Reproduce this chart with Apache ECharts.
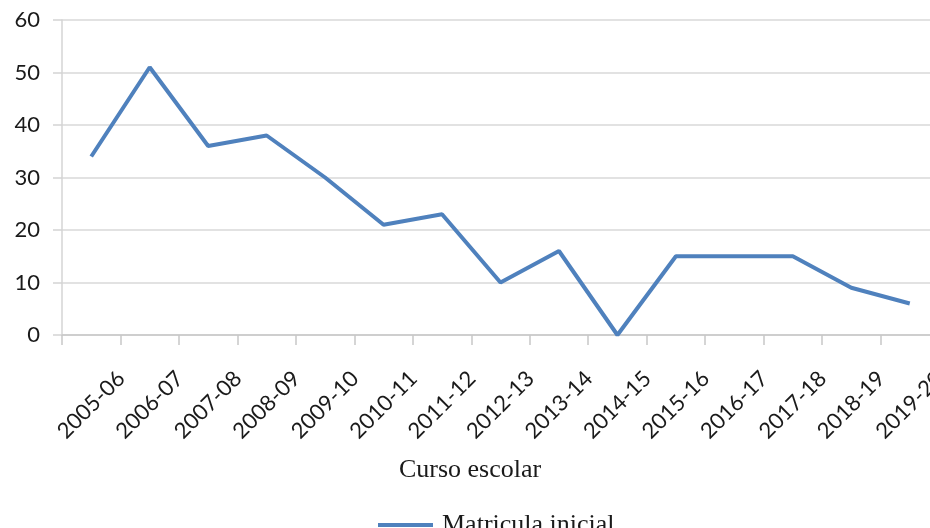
<!DOCTYPE html>
<html>
<head>
<meta charset="utf-8">
<script src="https://cdn.jsdelivr.net/npm/echarts@6/dist/echarts.min.js"></script>
<style>
html,body{margin:0;padding:0;background:#fff;overflow:hidden;}
#chart{width:930px;height:528px;}
</style>
</head>
<body>
<div id="chart"></div>
<script>
var categories = ["2005-06","2006-07","2007-08","2008-09","2009-10","2010-11","2011-12","2012-13","2013-14","2014-15","2015-16","2016-17","2017-18","2018-19","2019-20"];
var matricula = [34, 51, 36, 38, 30, 21, 23, 10, 16, 0, 15, 15, 15, 9, 6];
var seriesName = "Matricula inicial";
var xTitle = "Curso escolar";
var yTicks = [0, 10, 20, 30, 40, 50, 60];

var chart = echarts.init(document.getElementById('chart'), null, {renderer:'canvas'});
chart.setOption({
  animation: false,
  backgroundColor: '#ffffff',
  grid: {left: 62, width: 877, top: 20, height: 315, containLabel: false, outerBoundsMode: 'none'},
  xAxis: {
    type: 'category',
    data: categories,
    boundaryGap: true,
    axisLine: {show: true, lineStyle: {color: '#c8c8c8', width: 1.5}},
    axisTick: {show: true, length: 10, alignWithLabel: false, lineStyle: {color: '#c8c8c8', width: 1.5}},
    axisLabel: {
      rotate: 45, align: 'center', verticalAlign: 'middle', margin: 70,
      interval: 0, color: '#1a1a1a', fontFamily: 'Lato', fontSize: 22
    },
    splitLine: {show: false}
  },
  yAxis: {
    type: 'value',
    min: yTicks[0], max: yTicks[yTicks.length-1], interval: 10,
    axisLine: {show: true, lineStyle: {color: '#d4d4d4', width: 1.5}},
    axisTick: {show: true, length: 9, lineStyle: {color: '#d4d4d4', width: 1.5}},
    axisLabel: {margin: 22, color: '#1a1a1a', fontFamily: 'Lato', fontSize: 22},
    splitLine: {show: true, lineStyle: {color: '#d9d9d9', width: 1.5}}
  },
  legend: {
    show: true,
    left: 373, top: 507,
    icon: 'rect',
    itemWidth: 55, itemHeight: 4,
    textStyle: {fontFamily: 'Liberation Serif', fontSize: 26, color: '#1a1a1a', padding: [0,0,0,4]},
    data: [seriesName]
  },
  graphic: [{
    type: 'text', x: 470, y: 470,
    style: {text: xTitle, fontFamily: 'Liberation Serif', fontSize: 26, fill: '#1a1a1a',
            align: 'center', verticalAlign: 'middle', textAlign: 'center', textVerticalAlign: 'middle'}
  }],
  series: [{
    name: seriesName,
    type: 'line',
    data: matricula,
    symbol: 'none',
    lineStyle: {color: '#4f81bd', width: 4},
    itemStyle: {color: '#4f81bd'}
  }]
});
</script>
</body>
</html>
